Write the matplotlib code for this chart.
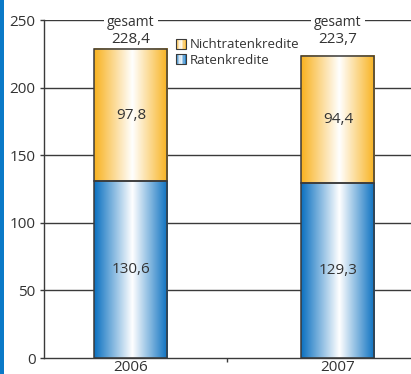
import numpy as np
import matplotlib
matplotlib.use("Agg")
import matplotlib.pyplot as plt
from matplotlib.patches import Rectangle
from matplotlib.legend_handler import HandlerBase
from matplotlib.colors import LinearSegmentedColormap

categories = ["2006", "2007"]
ratenkredite = [130.6, 129.3]
nichtraten = [97.8, 94.4]
gesamt = [228.4, 223.7]
seg_labels_raten = ["130,6", "129,3"]
seg_labels_nicht = ["97,8", "94,4"]
total_labels = ["228,4", "223,7"]
yticks = [0, 50, 100, 150, 200, 250]
series_names = ["Nichtratenkredite", "Ratenkredite"]

plt.rcParams['font.family'] = ['Open Sans', 'DejaVu Sans']
TXT = '#333333'
GRID = '#3a3a3a'
BLUE = '#0a70c0'
ORANGE = '#f8b21f'

blue_cmap = LinearSegmentedColormap.from_list('b', [(0, BLUE), (0.52, '#ffffff'), (1, BLUE)])
orange_cmap = LinearSegmentedColormap.from_list('o', [(0, ORANGE), (0.52, '#ffffff'), (1, ORANGE)])

fig = plt.figure(figsize=(4.11, 3.74), dpi=100)
fig.patches.append(Rectangle((0, 0), 4/411, 1, transform=fig.transFigure,
                             facecolor='#0a7ac8', edgecolor='none', zorder=10))

ax = fig.add_axes([44/411, 16/374, 1 - 44/411 + 0.02, 338/374])
ax.set_ylim(0, 250)
ax.set_xlim(-0.42, 1.353 + 0.02 * 411 / 207)
width = 0.353
x = np.arange(len(categories))

grad = np.linspace(0, 1, 256).reshape(1, -1)

def grad_bar(xc, bottom, height, cmap):
    x0, x1 = xc - width / 2, xc + width / 2
    ax.imshow(grad, cmap=cmap, aspect='auto', extent=(x0, x1, bottom, bottom + height),
              zorder=2, interpolation='bilinear')
    ax.add_patch(Rectangle((x0, bottom), width, height, facecolor='none',
                           edgecolor=GRID, linewidth=1.1, zorder=3))

for i in range(len(categories)):
    grad_bar(x[i], 0, ratenkredite[i], blue_cmap)
    grad_bar(x[i], ratenkredite[i], nichtraten[i], orange_cmap)
    ax.text(x[i], ratenkredite[i] / 2, seg_labels_raten[i], ha='center', va='center',
            fontsize=11, color=TXT, zorder=4)
    ax.text(x[i], ratenkredite[i] + nichtraten[i] / 2, seg_labels_nicht[i], ha='center',
            va='center', fontsize=11, color=TXT, zorder=4)
    ax.text(x[i], 248.5, "gesamt", ha='center', va='center', fontsize=10, color=TXT, zorder=4,
            bbox=dict(facecolor='white', edgecolor='none', pad=2.5))
    ax.text(x[i], 235.5, total_labels[i], ha='center', va='center', fontsize=11,
            color=TXT, zorder=4)

ax.set_yticks(yticks)
ax.set_yticklabels([str(v) for v in yticks], fontsize=11, color=TXT)
for v in yticks[1:]:
    ax.axhline(v, color=GRID, linewidth=1.0, zorder=1)
ax.set_xticks(x)
ax.set_xticklabels(categories, fontsize=11, color=TXT)
ax.tick_params(axis='x', length=0, pad=1.5)
ax.tick_params(axis='y', length=3, width=1, color=GRID, pad=3)
ax.set_xticks([0.465], minor=True)
ax.tick_params(axis='x', which='minor', length=3, width=1, color=GRID, direction='out')
for s in ['top', 'right']:
    ax.spines[s].set_visible(False)
for s in ['left', 'bottom']:
    ax.spines[s].set_color(GRID)
    ax.spines[s].set_linewidth(1.0)


class GradHandler(HandlerBase):
    def __init__(self, cmap):
        super().__init__()
        self.cmap = cmap

    def create_artists(self, legend, orig_handle, xdescent, ydescent, width, height, fontsize, trans):
        arts = []
        s = min(width, height)
        x0 = -xdescent + (width - s)
        y0 = -ydescent
        n = 8
        for k in range(n):
            c = self.cmap((k + 0.5) / n)
            arts.append(Rectangle((x0 + s * k / n, y0), s / n, s, facecolor=c, edgecolor='none',
                                  transform=trans))
        arts.append(Rectangle((x0, y0), s, s, facecolor='none', edgecolor=GRID, linewidth=0.8,
                              transform=trans))
        return arts

h1 = Rectangle((0, 0), 1, 1)
h2 = Rectangle((0, 0), 1, 1)
leg = fig.legend([h1, h2], series_names, loc='upper left',
                 bbox_to_anchor=(166 / 411, 1 - 29 / 374), frameon=False, fontsize=9.5,
                 handler_map={h1: GradHandler(orange_cmap), h2: GradHandler(blue_cmap)},
                 handlelength=0.8, handleheight=0.8, handletextpad=0.3, labelspacing=0.2,
                 borderpad=0.2, labelcolor=TXT)

fig.savefig("out.png", dpi=100)
